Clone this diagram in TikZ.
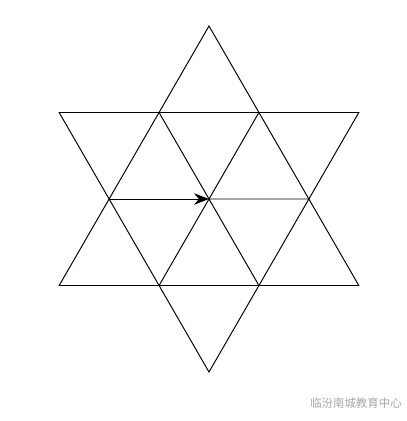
\documentclass[tikz,border=0pt]{standalone}
\usepackage{fontspec}
\newfontfamily\cjk{Noto Sans CJK SC}
\usetikzlibrary{arrows.meta}

\begin{document}
\begin{tikzpicture}
  \useasboundingbox (-4.18,-4.44) rectangle (3.96,3.98);
  % outer points of the star
  \coordinate (t1) at (90:3.46);
  \coordinate (t2) at (210:3.46);
  \coordinate (t3) at (330:3.46);
  \coordinate (s1) at (150:3.46);
  \coordinate (s2) at (30:3.46);
  \coordinate (s3) at (270:3.46);
  % inner hexagon
  \coordinate (h0) at (0:1.98);
  \coordinate (h1) at (60:1.98);
  \coordinate (h2) at (120:1.98);
  \coordinate (h3) at (180:1.98);
  \coordinate (h4) at (240:1.98);
  \coordinate (h5) at (300:1.98);
  \coordinate (o) at (0,0);
  \draw[line width=0.55pt] (t1) -- (t2) -- (t3) -- cycle;
  \draw[line width=0.55pt] (s1) -- (s2) -- (s3) -- cycle;
  \draw[line width=0.55pt] (h1) -- (h4) (h2) -- (h5) (o) -- (h0);
  \draw[line width=0.55pt,-{Stealth[length=8.5pt,width=6.5pt]}] (h3) -- (o);
  \node[text=black!35,font=\cjk\fontsize{6.5pt}{7pt}\selectfont] (wm) at (2.94,-4.08) {临汾南城教育中心};
\end{tikzpicture}
\end{document}
